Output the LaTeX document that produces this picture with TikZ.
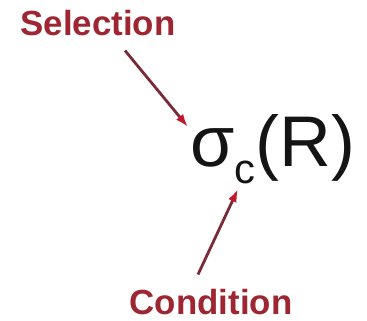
\documentclass[tikz,border=0pt]{standalone}
\usepackage{fontspec}
\setmainfont{Liberation Sans}
\usepackage{tikz}
\usetikzlibrary{arrows.meta,positioning,calc}
\definecolor{ink}{RGB}{20,20,20}
\definecolor{maroon}{RGB}{158,38,50}
\definecolor{shaft}{RGB}{120,44,56}
\definecolor{tipred}{RGB}{196,22,44}
\tikzset{
  tag/.style={font=\fontsize{35}{38}\selectfont\bfseries,text=maroon,inner sep=0pt},
  formula/.style={font=\fontsize{72}{76}\selectfont,text=ink,inner sep=0pt},
  pointer/.style={line width=2.8bp,shaft,-{Latex[length=4.6mm,width=3.2mm,color=tipred]}}
}

\begin{document}
\begin{tikzpicture}[x=1bp,y=-1bp]
  \useasboundingbox[fill=white] (0,0) rectangle (367,321);
  \node[tag,anchor=base] (sel) at (98,35) {Selection};
  \node[formula,anchor=base west] (expr) at (190,166)
    {σ\raisebox{-17bp}{\fontsize{42}{44}\selectfont c}(R)};
  \node[tag,anchor=base] (cond) at (211,314) {Condition};
  \coordinate (selTip) at (188,127);
  \coordinate (condTip) at (238,189);
  \draw[pointer] ([xshift=27bp,yshift=-15bp]sel.south) -- (selTip);
  \draw[pointer] ([xshift=-13bp,yshift=14bp]cond.north) -- (condTip);
\end{tikzpicture}
\end{document}
